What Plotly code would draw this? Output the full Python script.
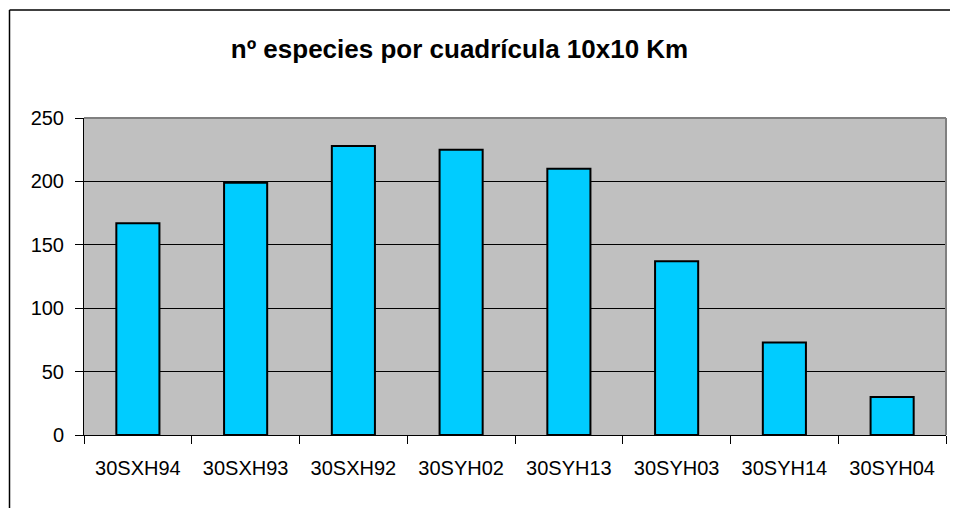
import plotly.graph_objects as go

categories = ["30SXH94", "30SXH93", "30SXH92", "30SYH02", "30SYH13", "30SYH03", "30SYH14", "30SYH04"]
species = [167, 199, 228, 225, 210, 137, 73, 30]
y_ticks = [0, 50, 100, 150, 200, 250]
title_text = "nº especies por cuadrícula 10x10 Km"

FONT = "Liberation Sans, Arial, sans-serif"

# page body has an 8px margin; figure is placed at (8, 8)
W, H = 942, 500
L, R, T, B = 76, 4, 110, 73

fig = go.Figure(go.Bar(
    x=categories, y=species,
    width=0.4,
    marker=dict(color="#00CCFF", line=dict(color="black", width=2)),
    hoverinfo="x+y",
))

fig.update_layout(
    width=W, height=H,
    margin=dict(l=L, r=R, t=T, b=B),
    paper_bgcolor="white",
    plot_bgcolor="#C0C0C0",
    showlegend=False,
    font=dict(family=FONT, size=20, color="black"),
    title=dict(text="<b>" + title_text + "</b>", x=451.5 / W, xanchor="center",
               y=1 - 41 / H, yanchor="middle", yref="container",
               font=dict(family=FONT, size=26, color="black")),
)

fig.update_xaxes(
    type="category", range=[-0.5, 7.5],
    showline=True, linecolor="black", linewidth=1,
    ticks="outside", tickson="boundaries", ticklen=8, tickcolor="black", tickwidth=1,
    showgrid=False, ticklabelstandoff=15,
    tickfont=dict(family=FONT, size=20, color="black"),
)
fig.update_yaxes(
    range=[0, 250], tickvals=y_ticks,
    showline=True, linecolor="black", linewidth=1,
    ticks="outside", ticklen=8, tickcolor="black", tickwidth=1,
    showgrid=True, gridcolor="black", gridwidth=1,
    zeroline=False, ticklabelstandoff=7,
    tickfont=dict(family=FONT, size=20, color="black"),
)

# plot-area border top/right in gray
fig.add_shape(type="line", xref="paper", yref="paper", x0=0, x1=1, y0=1, y1=1,
              line=dict(color="#808080", width=2))
fig.add_shape(type="line", xref="paper", yref="paper", x0=1, x1=1, y0=0, y1=1,
              line=dict(color="#808080", width=2))

# outer chart border (only left and top edges are visible in the frame)
pw = W - L - R
ph = H - T - B
x_left = (1.5 - L) / pw
y_top = (H - 2 - B) / ph
fig.add_shape(type="line", xref="paper", yref="paper",
              x0=x_left, x1=x_left, y0=(-B - 20) / ph, y1=y_top,
              line=dict(color="black", width=1.5), layer="below")
fig.add_shape(type="line", xref="paper", yref="paper",
              x0=x_left, x1=(W - L + 20) / pw, y0=y_top, y1=y_top,
              line=dict(color="black", width=1.5), layer="below")

fig.write_html("out.html")
